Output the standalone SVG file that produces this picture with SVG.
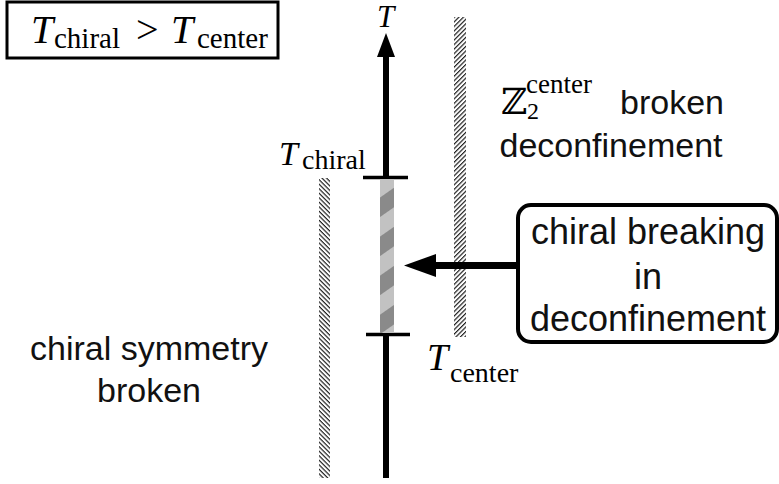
<svg xmlns="http://www.w3.org/2000/svg" width="779" height="484" viewBox="0 0 779 484">
<style>
.m{font-family:"Liberation Serif","Times New Roman",serif;fill:#000}
.mi{font-style:italic}
.s{font-family:"Liberation Sans",Arial,sans-serif;fill:#111}
</style>
<defs>
<pattern id="hatchR" patternUnits="userSpaceOnUse" width="6" height="3.2" patternTransform="rotate(-45)">
<rect x="0" y="0" width="6" height="1.2" fill="#222"/>
</pattern>
<pattern id="hatchL" patternUnits="userSpaceOnUse" width="6" height="3.2" patternTransform="rotate(45)">
<rect x="0" y="0" width="6" height="1.2" fill="#222"/>
</pattern>
<pattern id="stripes" patternUnits="userSpaceOnUse" width="20" height="32" patternTransform="translate(380 178) rotate(-35)">
<rect x="0" y="0" width="20" height="16" fill="#c2c2c2"/>
<rect x="0" y="16" width="20" height="16" fill="#8a8a8a"/>
</pattern>
</defs>
<rect width="779" height="484" fill="#fff"/>

<g id="hatch-left"><rect x="319" y="178" width="11" height="300" fill="url(#hatchL)"/></g>
<g id="hatch-right"><rect x="454" y="17" width="12" height="320" fill="url(#hatchR)"/></g>

<g id="connectors">
<line x1="386" y1="52" x2="386" y2="478" stroke="#000" stroke-width="6"/>
<polygon points="386,33 377,57 395,57" fill="#000"/>
<line x1="363" y1="177.5" x2="408" y2="177.5" stroke="#000" stroke-width="3.5"/>
<line x1="366" y1="334.5" x2="410" y2="334.5" stroke="#000" stroke-width="3.5"/>
<line x1="432" y1="265.5" x2="520" y2="265.5" stroke="#000" stroke-width="7"/>
<polygon points="404,265.5 436,254 436,277" fill="#000"/>
</g>

<g id="transition-bar"><rect x="380" y="179" width="14" height="154" fill="url(#stripes)"/></g>

<g id="condition-box">
<rect x="7" y="2" width="271" height="56" fill="none" stroke="#000" stroke-width="3"/>
<text class="m mi" x="31" y="43" font-size="40">T</text>
<text class="m" x="54" y="48" font-size="29">chiral</text>
<text class="m" x="136" y="43" font-size="40">&gt;</text>
<text class="m mi" x="171" y="43" font-size="40">T</text>
<text class="m" x="197" y="48" font-size="29">center</text>
</g>

<g id="axis-label"><text class="m mi" x="377" y="27" font-size="31">T</text></g>

<g id="t-chiral-label">
<text class="m mi" x="279" y="165" font-size="34">T</text>
<text class="m" x="302" y="169" font-size="28">chiral</text>
</g>

<g id="t-center-label">
<text class="m mi" x="427" y="370" font-size="38">T</text>
<text class="m" x="450" y="382" font-size="28">center</text>
</g>

<g id="deconf-region">
<text x="501" y="114" font-size="36" font-family="DejaVu Serif,serif" fill="#000">ℤ</text>
<text class="m" x="526" y="93" font-size="27">center</text>
<text class="m" x="527" y="119" font-size="24">2</text>
<text class="s" x="620" y="114" font-size="34">broken</text>
<text class="s" x="611" y="157" font-size="34" text-anchor="middle">deconfinement</text>
</g>

<g id="chiral-region">
<text class="s" x="149" y="360" font-size="34" text-anchor="middle">chiral symmetry</text>
<text class="s" x="149" y="402" font-size="34" text-anchor="middle">broken</text>
</g>

<g id="callout-box">
<rect x="518" y="205" width="259" height="137" rx="13" fill="#fff" stroke="#000" stroke-width="4"/>
<text class="s" x="648" y="244" font-size="36" text-anchor="middle">chiral breaking</text>
<text class="s" x="648" y="289" font-size="36" text-anchor="middle">in</text>
<text class="s" x="648" y="331" font-size="36" text-anchor="middle">deconfinement</text>
</g>
</svg>
